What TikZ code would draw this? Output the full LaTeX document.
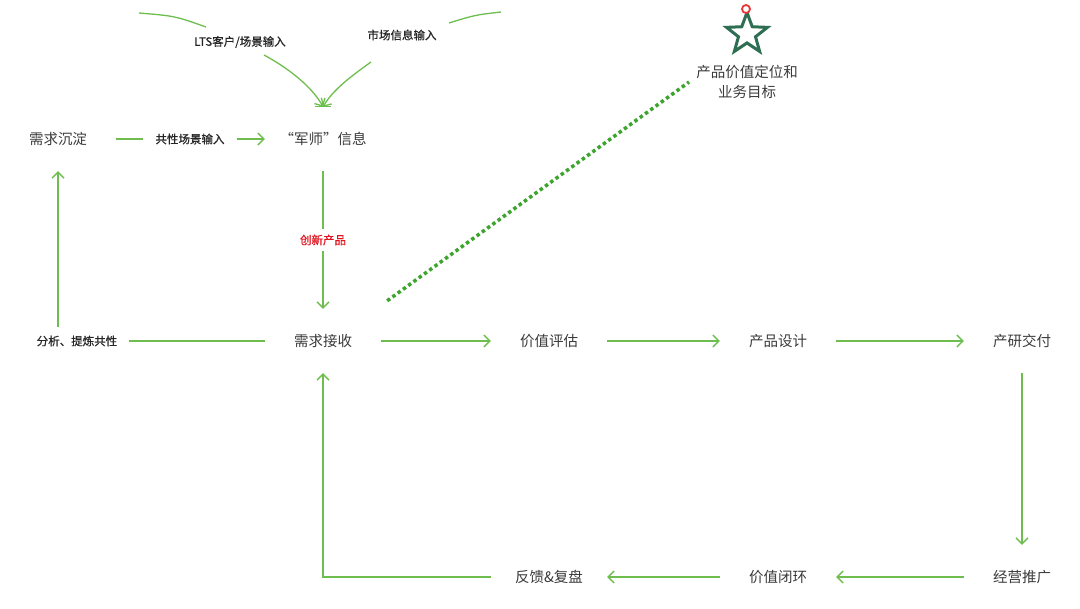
\documentclass[tikz,border=0pt]{standalone}
\usepackage{fontspec}
\setmainfont{Noto Sans CJK SC}
\newfontfamily\medfont{Noto Sans CJK SC}[FakeBold=0.7]
\usetikzlibrary{arrows.meta,shapes.geometric}
\definecolor{lg}{HTML}{6DBE4F}
\definecolor{dg}{HTML}{3DA52E}
\definecolor{txt}{HTML}{3A3A3A}
\definecolor{lbl}{HTML}{262626}
\definecolor{redl}{HTML}{E0141E}
\definecolor{stargreen}{HTML}{2E6E52}
\definecolor{ringred}{HTML}{E53935}
\begin{document}
\begin{tikzpicture}[x=1pt,y=-1pt,
  main/.style={text=txt, font=\fontsize{14.5}{17}\selectfont, minimum width=116pt, minimum height=64pt, inner sep=0pt},
  lab/.style={text=lbl, font=\fontsize{11.5}{13}\selectfont\medfont, inner xsep=12pt, inner ysep=8pt},
  ln/.style={draw=lg, line width=1.3pt},
  arr/.style={ln, -{Straight Barb[length=6pt,width=12pt,line width=1.3pt]}},
  dotline/.style={draw=dg, line width=3.5pt, dash pattern=on 3.5pt off 3pt}]
\useasboundingbox (0,0) rectangle (1080,609);
% nodes
\node[main] (xqcd) at (58,139) {需求沉淀};
\node[lab] (gx) at (190,139) {共性场景输入};
\node[main] (js) at (323,139) {“军师”信息};
\node[lab, text=redl, inner ysep=5pt] (cx) at (323,240) {创新产品};
\node[main] (xq) at (323,341) {需求接收};
\node[lab] (fx) at (77,341) {分析、提炼共性};
\node[main] (jz) at (549,341) {价值评估};
\node[main] (cp) at (778,341) {产品设计};
\node[main] (cy) at (1022,341) {产研交付};
\node[main] (jy) at (1022,577) {经营推广};
\node[main] (bh) at (778,577) {价值闭环};
\node[main] (fk) at (549,577) {反馈\&复盘};
\node[lab] (lts) at (240,42) {LTS客户/场景输入};
\node[lab] (sc) at (402,35) {市场信息输入};
\node[star, star points=5, star point ratio=2.4, minimum size=43pt, inner sep=0pt, draw=stargreen, line width=3pt] (star) at (747,34) {};
\node[circle, draw=ringred, fill=white, line width=1.8pt, minimum size=8pt, inner sep=0pt] (ring) at (746,9) {};
\node[text=txt, font=\fontsize{14.5}{20}\selectfont, align=center, inner sep=0pt] (goal) at (747,82) {产品价值定位和\\业务目标};
% top curves
\coordinate (a1) at (139,13);
\coordinate (a2) at (206,27);
\coordinate (b1) at (449,23);
\coordinate (b2) at (501,12);
\coordinate (c1) at (264,55);
\coordinate (c2) at (371,62);
\draw[ln] (a1) .. controls (175,16) .. (a2);
\draw[ln] (b1) .. controls (475,15) .. (b2);
\draw[arr] (c1) .. controls (297,73) and (315,92) .. (js.north);
\draw[arr] (c2) .. controls (350,77) and (333,90) .. (js.north);
\draw[ln] ([xshift=-8pt]js.north) -- ([xshift=8pt]js.north);
% connectors
\draw[ln] (xqcd.east) -- (gx.west);
\draw[arr] (gx.east) -- (js.west);
\draw[ln] (js.south) -- (cx.north);
\draw[arr] (cx.south) -- (xq.north);
\draw[ln] (xq.west) -- (fx.east);
\draw[arr] (fx.north -| xqcd.south) -- (xqcd.south);
\draw[arr] (xq.east) -- (jz.west);
\draw[arr] (jz.east) -- (cp.west);
\draw[arr] (cp.east) -- (cy.west);
\draw[arr] (cy.south) -- (jy.north);
\draw[arr] (jy.west) -- (bh.east);
\draw[arr] (bh.west) -- (fk.east);
\draw[arr] (fk.west) -| (xq.south);
\draw[dotline] ([shift={(6,-8)}]xq.north east) -- ([xshift=-7pt]goal.west);
\end{tikzpicture}
\end{document}
